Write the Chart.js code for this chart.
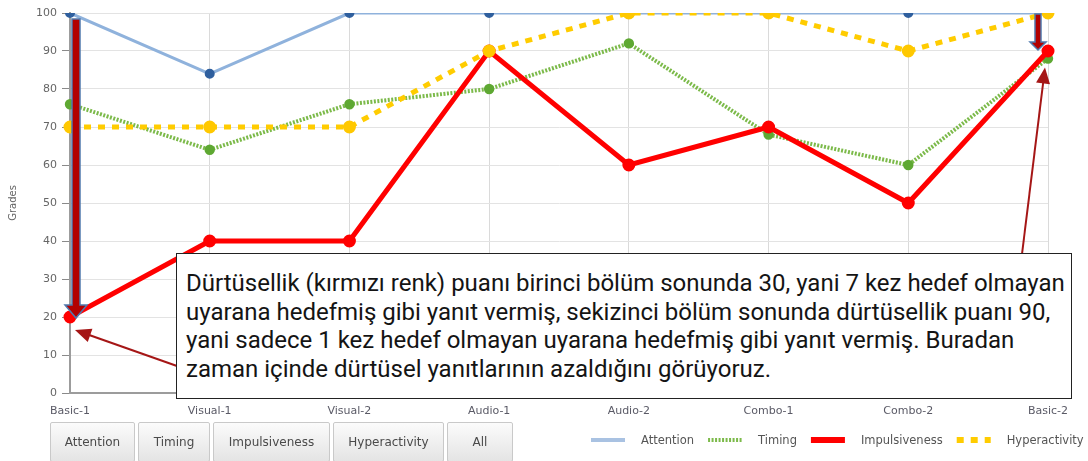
<!DOCTYPE html>
<html>
<head>
<meta charset="utf-8">
<script src="https://cdn.jsdelivr.net/npm/chart.js@4.4.0/dist/chart.umd.min.js"></script>
<style>
  html, body { margin: 0; padding: 0; background: #fff; }
  #wrap { position: relative; width: 1088px; height: 461px; overflow: hidden; }
  #chart { position: absolute; left: 0; top: 0; }
  .note {
    position: absolute; left: 176px; top: 253px; width: 896px; height: 146px;
    box-sizing: border-box; border: 1.5px solid #222; background: #fff;
    font-family: Roboto, "Noto Sans", sans-serif; font-size: 24px; line-height: 28.6px;
    color: #141414; padding: 15px 0 0 9px; white-space: nowrap;
  }
  .btns { position: absolute; left: 50px; top: 422px; display: flex; }
  .btns button {
    height: 40px; margin-right: 3px; padding: 0; box-sizing: border-box;
    background: linear-gradient(#fbfbfb, #e4e4e4); border: 1px solid #c9c9c9; border-radius: 2px;
    font-family: "DejaVu Sans", sans-serif; font-size: 12px; color: #4a4a4a;
  }
</style>
</head>
<body>
<div id="wrap">
  <canvas id="chart" width="1088" height="461"></canvas>
  <div class="note">Dürtüsellik (kırmızı renk) puanı birinci bölüm sonunda 30, yani 7 kez hedef olmayan<br>uyarana hedefmiş gibi yanıt vermiş, sekizinci bölüm sonunda dürtüsellik puanı 90,<br>yani sadece 1 kez hedef olmayan uyarana hedefmiş gibi yanıt vermiş. Buradan<br>zaman içinde dürtüsel yanıtlarının azaldığını görüyoruz.</div>
  <div class="btns" id="btns"></div>
</div>
<script>
// --- data ---
const categories = ["Basic-1", "Visual-1", "Visual-2", "Audio-1", "Audio-2", "Combo-1", "Combo-2", "Basic-2"];
const attention = [100, 84, 100, 100, 100, 100, 100, 100];
const timing = [76, 64, 76, 80, 92, 68, 60, 88];
const impulsiveness = [20, 40, 40, 90, 60, 70, 50, 90];
const hyperactivity = [70, 70, 70, 90, 100, 100, 90, 100];
const buttonLabels = ["Attention", "Timing", "Impulsiveness", "Hyperactivity", "All"];
const buttonWidths = [85, 72, 117, 111, 66];

const FONT = '"DejaVu Sans", sans-serif';

// filter buttons under the chart
const btnBox = document.getElementById('btns');
buttonLabels.forEach((label, i) => {
  const b = document.createElement('button');
  b.textContent = label;
  b.style.width = buttonWidths[i] + 'px';
  btnBox.appendChild(b);
});

function arrowHead(ctx, x0, y0, x1, y1, len, half) {
  const a = Math.atan2(y1 - y0, x1 - x0);
  ctx.beginPath();
  ctx.moveTo(x1, y1);
  ctx.lineTo(x1 - len * Math.cos(a) + half * Math.sin(a), y1 - len * Math.sin(a) - half * Math.cos(a));
  ctx.lineTo(x1 - len * Math.cos(a) - half * Math.sin(a), y1 - len * Math.sin(a) + half * Math.cos(a));
  ctx.closePath();
  ctx.fill();
}

function thinArrow(ctx, x0, y0, x1, y1) {
  ctx.save();
  ctx.strokeStyle = '#a51616';
  ctx.fillStyle = '#a51616';
  ctx.lineWidth = 2;
  const a = Math.atan2(y1 - y0, x1 - x0);
  ctx.beginPath();
  ctx.moveTo(x0, y0);
  ctx.lineTo(x1 - 12 * Math.cos(a), y1 - 12 * Math.sin(a));
  ctx.stroke();
  arrowHead(ctx, x0, y0, x1, y1, 16, 7);
  ctx.restore();
}

function blockArrow(ctx, x, y0, y1, shaft, headW, headH) {
  ctx.save();
  ctx.beginPath();
  ctx.moveTo(x - shaft / 2, y0);
  ctx.lineTo(x + shaft / 2, y0);
  ctx.lineTo(x + shaft / 2, y1 - headH);
  ctx.lineTo(x + headW / 2, y1 - headH);
  ctx.lineTo(x, y1);
  ctx.lineTo(x - headW / 2, y1 - headH);
  ctx.lineTo(x - shaft / 2, y1 - headH);
  ctx.closePath();
  ctx.fillStyle = '#b30000';
  ctx.fill();
  ctx.strokeStyle = '#5079ad';
  ctx.lineWidth = 1.5;
  ctx.stroke();
  ctx.restore();
}

const decor = {
  id: 'decor',
  afterDatasetsDraw(chart) {
    const ctx = chart.ctx;
    const xs = chart.scales.x, ys = chart.scales.y;
    const last = categories.length - 1;
    // big down arrows
    blockArrow(ctx, xs.getPixelForValue(0) + 6, ys.getPixelForValue(100) + 6, ys.getPixelForValue(20) + 1, 8, 22, 13);
    blockArrow(ctx, xs.getPixelForValue(last) - 10, ys.getPixelForValue(100) + 1, ys.getPixelForValue(90) - 1, 6, 16, 8);
    // callout arrows from the note box
    thinArrow(ctx, 177, 366, xs.getPixelForValue(0) + 5, ys.getPixelForValue(impulsiveness[0]) + 13);
    thinArrow(ctx, 1022, 254, xs.getPixelForValue(last) - 3, ys.getPixelForValue(timing[last]) + 9);
  },
  afterDraw(chart) {
    // legend row, bottom right
    const ctx = chart.ctx;
    const y = 440;
    let x = 591;
    ctx.save();
    ctx.font = '11.5px ' + FONT;
    ctx.textBaseline = 'middle';
    chart.data.datasets.forEach(ds => {
      ctx.save();
      ctx.strokeStyle = ds.legendColor || ds.borderColor;
      ctx.lineWidth = ds.legendWidth;
      ctx.setLineDash(ds.borderDash || []);
      ctx.beginPath();
      ctx.moveTo(x, y);
      ctx.lineTo(x + 34, y);
      ctx.stroke();
      ctx.restore();
      x += 34 + 16;
      ctx.fillStyle = '#555';
      ctx.fillText(ds.label, x, y + 1);
      x += ctx.measureText(ds.label).width + 14;
    });
    ctx.restore();
  }
};

new Chart(document.getElementById('chart'), {
  type: 'line',
  data: {
    labels: categories,
    datasets: [
      {
        label: 'Attention', data: attention, order: 4,
        borderColor: '#8fb2dc', borderWidth: 3, legendColor: '#a9c2e2', legendWidth: 4,
        pointRadius: 3.5, pointBackgroundColor: '#2f5f9e', pointBorderColor: '#2f5f9e'
      },
      {
        label: 'Timing', data: timing, order: 3,
        borderColor: '#7cba4a', borderWidth: 4, borderDash: [2, 1.5], legendWidth: 4,
        pointRadius: 3.2, pointBackgroundColor: '#5ea832', pointBorderColor: '#5ea832'
      },
      {
        label: 'Impulsiveness', data: impulsiveness, order: 2,
        borderColor: '#ff0000', borderWidth: 5, legendWidth: 6,
        pointRadius: 4, pointBackgroundColor: '#ff0000', pointBorderColor: '#ff0000'
      },
      {
        label: 'Hyperactivity', data: hyperactivity, order: 1,
        borderColor: '#ffcc00', borderWidth: 5, borderDash: [7, 7], legendWidth: 6,
        pointRadius: 4, pointBackgroundColor: '#ffc800', pointBorderColor: '#ffc800'
      }
    ]
  },
  options: {
    responsive: false,
    animation: false,
    layout: { padding: { top: 13, right: 40, left: 0, bottom: 0 } },
    plugins: { legend: { display: false }, tooltip: { enabled: false } },
    scales: {
      x: {
        grid: { color: '#dadada', drawTicks: false },
        border: { color: '#9c9c9c', width: 2 },
        ticks: { font: { family: FONT, size: 11 }, color: '#5a5a66', padding: 12, maxRotation: 0, autoSkip: false },
        afterFit: s => { s.height = 68; }
      },
      y: {
        min: 0, max: 100,
        grid: { color: '#e3e3e3', tickLength: 8, tickColor: '#8a8a8a' },
        border: { color: '#9c9c9c', width: 2 },
        ticks: { stepSize: 10, font: { family: FONT, size: 11 }, color: '#666', padding: 5 },
        title: { display: true, text: 'Grades', font: { family: FONT, size: 10 }, color: '#666', padding: { top: 7, bottom: 0 } },
        afterFit: s => { s.width = 70; }
      }
    }
  },
  plugins: [decor]
});
</script>
</body>
</html>
